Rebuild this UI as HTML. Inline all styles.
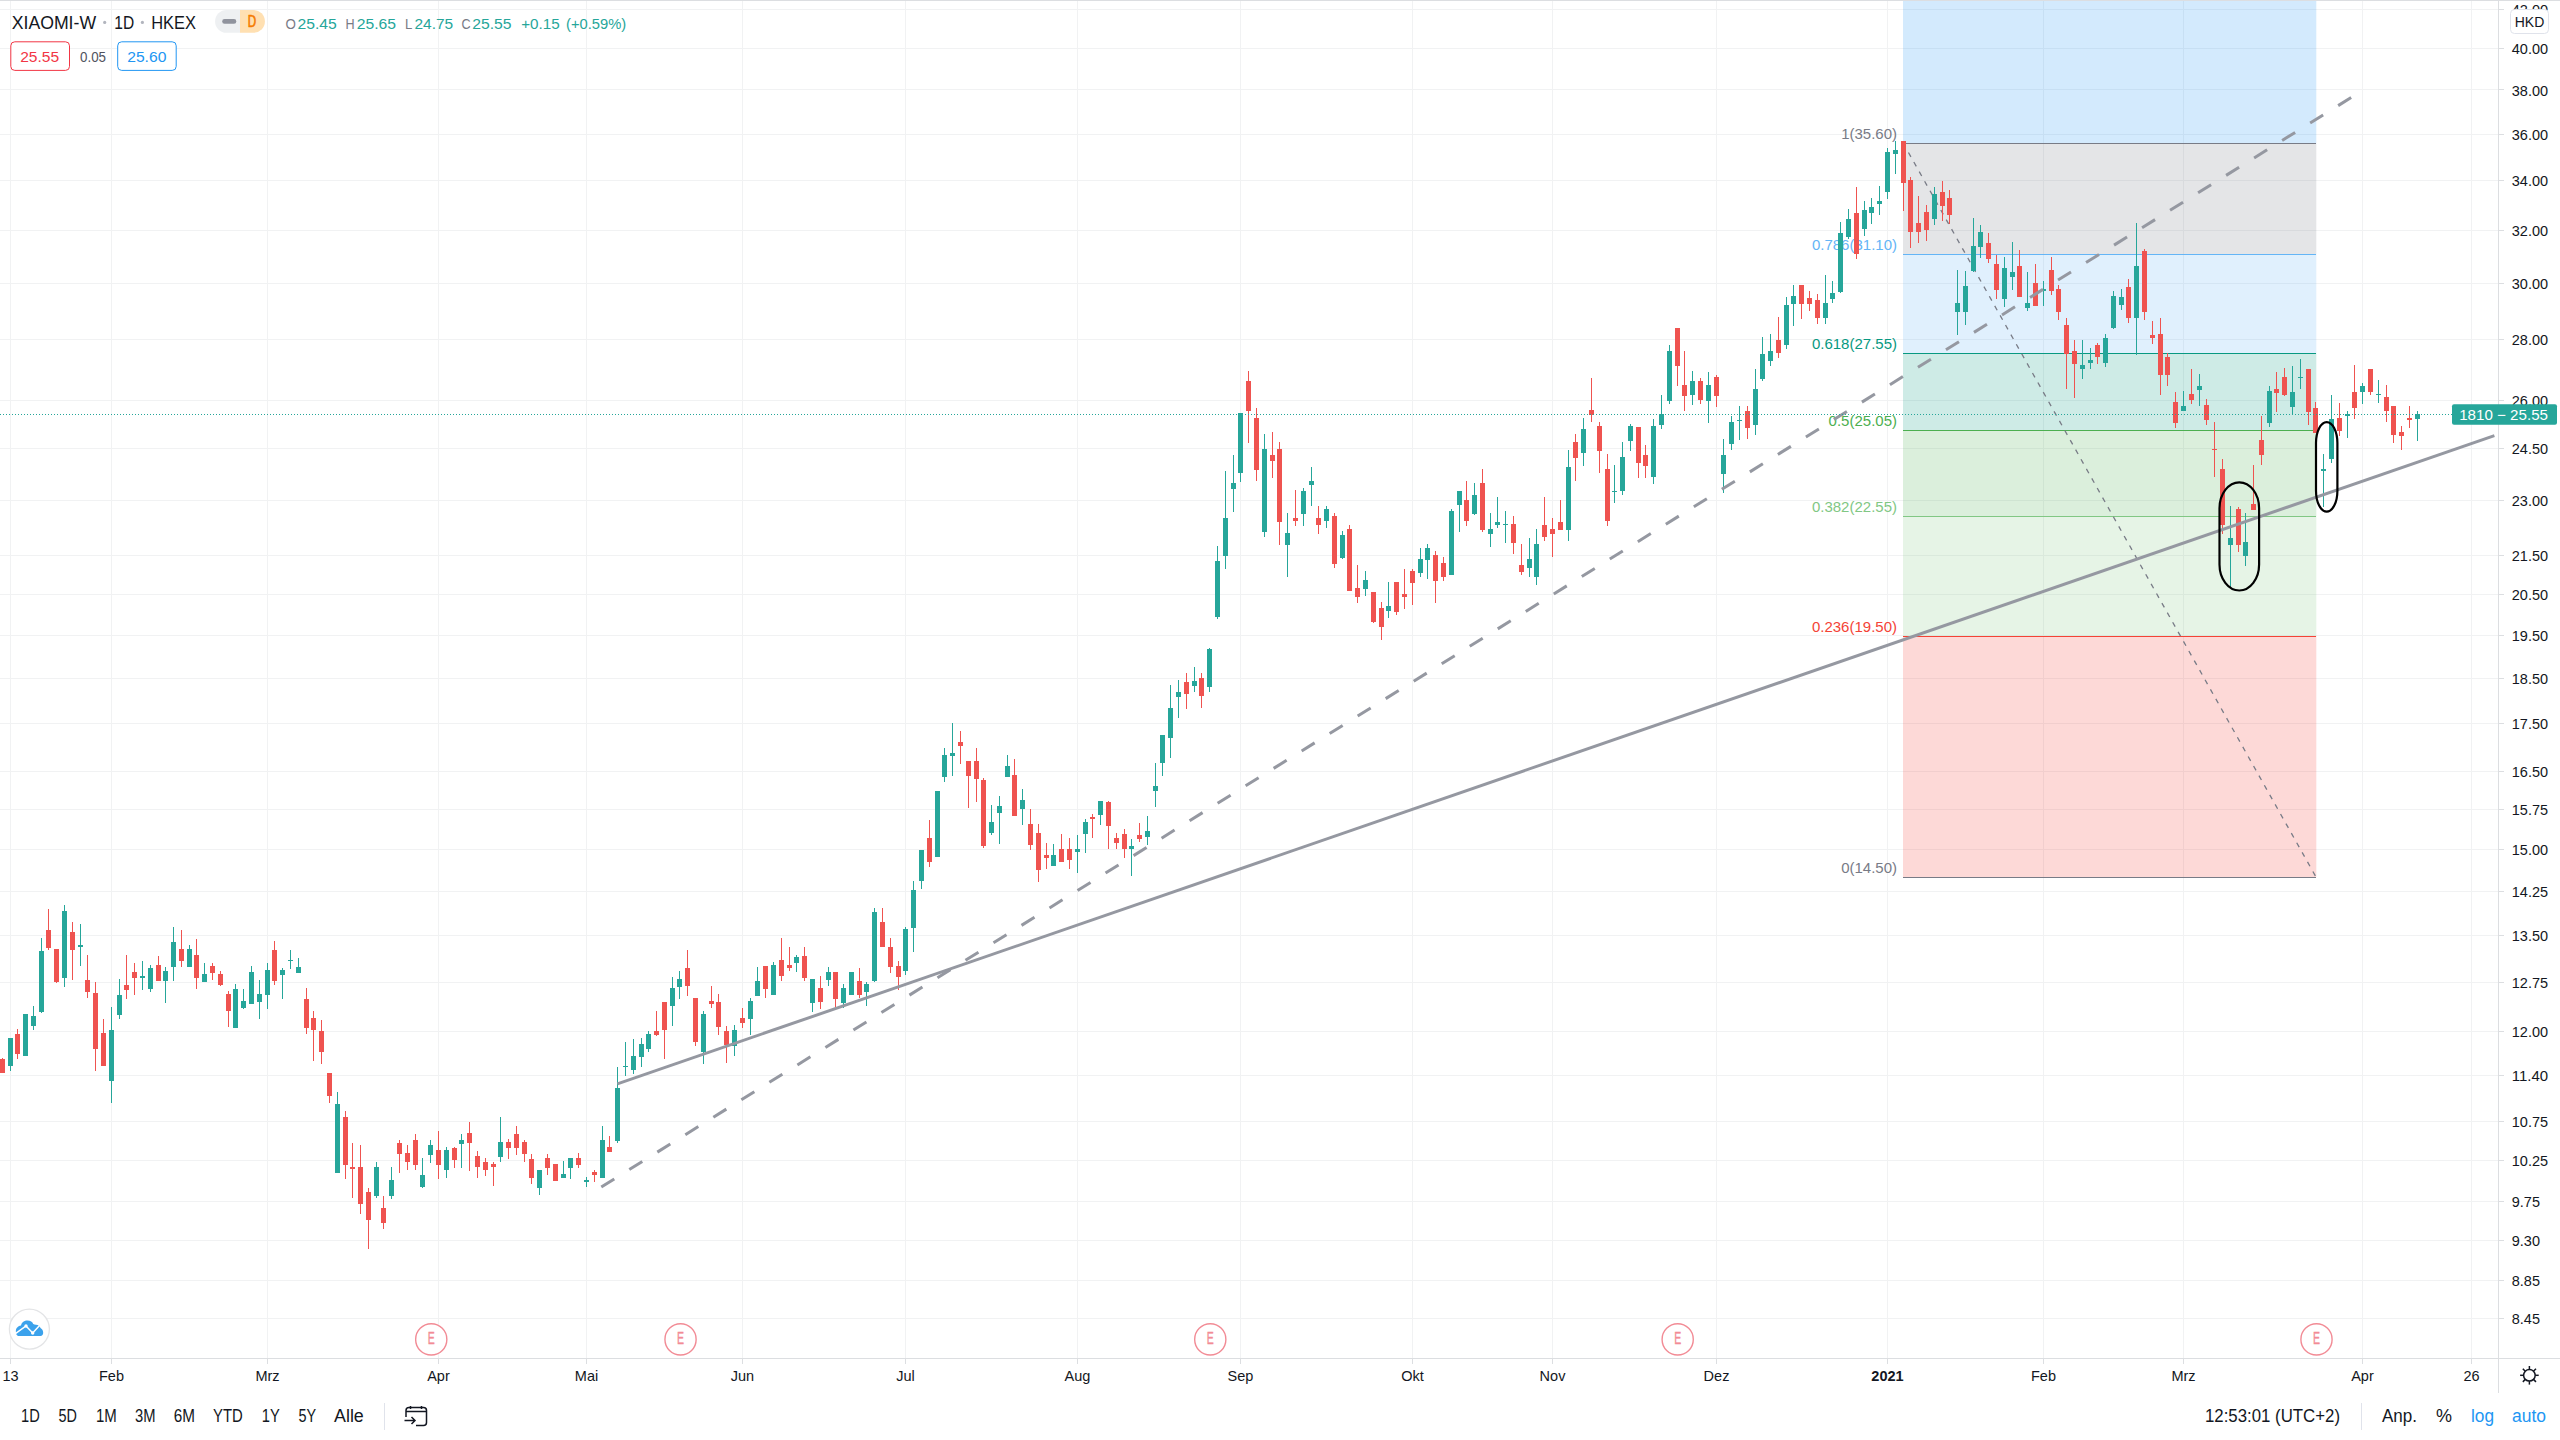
<!DOCTYPE html><html><head><meta charset="utf-8"><style>html,body{margin:0;padding:0;background:#fff;width:2560px;height:1440px;overflow:hidden}svg{display:block;font-family:"Liberation Sans",sans-serif}</style></head><body>
<svg width="2560" height="1440" viewBox="0 0 2560 1440">
<rect width="2560" height="1440" fill="#fff"/>
<path d="M10.5 0V1358M111.5 0V1358M267.5 0V1358M438.5 0V1358M586.5 0V1358M742.5 0V1358M905.5 0V1358M1077.5 0V1358M1240.5 0V1358M1412.5 0V1358M1552.5 0V1358M1716.5 0V1358M1887.5 0V1358M2043.5 0V1358M2183.5 0V1358M2362.5 0V1358M2471.5 0V1358M0 9.5H2498M0 48.5H2498M0 89.5H2498M0 134.5H2498M0 180.5H2498M0 230.5H2498M0 283.5H2498M0 339.5H2498M0 400.5H2498M0 448.5H2498M0 500.5H2498M0 555.5H2498M0 594.5H2498M0 635.5H2498M0 678.5H2498M0 723.5H2498M0 771.5H2498M0 809.5H2498M0 849.5H2498M0 891.5H2498M0 935.5H2498M0 982.5H2498M0 1031.5H2498M0 1075.5H2498M0 1121.5H2498M0 1160.5H2498M0 1201.5H2498M0 1240.5H2498M0 1280.5H2498M0 1318.5H2498" stroke="#f1f2f3" stroke-width="1" fill="none" shape-rendering="crispEdges"/>
<rect x="1903" y="636.0" width="413.3000000000002" height="241.2" fill="#f44336" fill-opacity="0.2"/>
<rect x="1903" y="516.0" width="413.3000000000002" height="120.0" fill="#81c784" fill-opacity="0.2"/>
<rect x="1903" y="430.5" width="413.3000000000002" height="85.5" fill="#4caf50" fill-opacity="0.2"/>
<rect x="1903" y="353.0" width="413.3000000000002" height="77.4" fill="#089981" fill-opacity="0.2"/>
<rect x="1903" y="254.1" width="413.3000000000002" height="98.9" fill="#64b5f6" fill-opacity="0.2"/>
<rect x="1903" y="143.3" width="413.3000000000002" height="110.8" fill="#787b86" fill-opacity="0.2"/>
<rect x="1903" y="0" width="413.3000000000002" height="143.3" fill="#2196f3" fill-opacity="0.2"/>
<path d="M1903 877.5H2316.3" stroke="#787b86" stroke-width="1" shape-rendering="crispEdges"/>
<path d="M1903 636.5H2316.3" stroke="#f44336" stroke-width="1" shape-rendering="crispEdges"/>
<path d="M1903 516.5H2316.3" stroke="#81c784" stroke-width="1" shape-rendering="crispEdges"/>
<path d="M1903 430.5H2316.3" stroke="#4caf50" stroke-width="1" shape-rendering="crispEdges"/>
<path d="M1903 353.5H2316.3" stroke="#089981" stroke-width="1" shape-rendering="crispEdges"/>
<path d="M1903 254.5H2316.3" stroke="#64b5f6" stroke-width="1" shape-rendering="crispEdges"/>
<path d="M1903 143.5H2316.3" stroke="#787b86" stroke-width="1" shape-rendering="crispEdges"/>
<text x="1897" y="872.9" font-size="15" fill="#787b86" text-anchor="end">0(14.50)</text>
<text x="1897" y="631.7" font-size="15" fill="#f44336" text-anchor="end">0.236(19.50)</text>
<text x="1897" y="511.7" font-size="15" fill="#81c784" text-anchor="end">0.382(22.55)</text>
<text x="1897" y="426.2" font-size="15" fill="#4caf50" text-anchor="end">0.5(25.05)</text>
<text x="1897" y="348.7" font-size="15" fill="#089981" text-anchor="end">0.618(27.55)</text>
<text x="1897" y="249.8" font-size="15" fill="#64b5f6" text-anchor="end">0.786(31.10)</text>
<text x="1897" y="139.0" font-size="15" fill="#787b86" text-anchor="end">1(35.60)</text>
<path d="M1903.3 143.3L2316.1 877.2" stroke="#787b86" stroke-width="1.3" stroke-dasharray="5 6" stroke-dashoffset="0.5" fill="none"/>
<path d="M10.5 1038V1071M25.5 1014V1056M33.5 1006V1030M41.5 938V1013M64.5 905V987M80.5 924V966M111.5 1007V1103M119.5 979V1019M142.5 961V990M150.5 965V992M165.5 967V1003M173.5 927V981M189.5 945V967M204.5 963V982M235.5 984V1028M243.5 989V1009M251.5 966V1004M259.5 980V1019M267.5 963V1009M282.5 968V999M290.5 950V969M298.5 958V973M337.5 1092V1173M376.5 1162V1198M391.5 1167V1199M422.5 1158V1188M430.5 1140V1163M446.5 1147V1178M461.5 1134V1168M500.5 1117V1162M539.5 1170V1195M563.5 1161V1178M570.5 1158V1179M586.5 1177V1187M602.5 1126V1178M617.5 1067V1143M625.5 1042V1076M633.5 1039V1074M641.5 1038V1067M648.5 1031V1052M672.5 977V1026M679.5 971V999M703.5 1011V1064M734.5 1025V1056M750.5 998V1035M757.5 967V996M773.5 962V995M796.5 955V972M812.5 979V1012M828.5 967V986M843.5 984V1008M851.5 972V995M866.5 982V1006M874.5 908V982M905.5 927V975M913.5 881V952M921.5 850V889M937.5 791V857M944.5 748V782M952.5 723V776M991.5 805V835M999.5 796V844M1007.5 755V777M1022.5 789V825M1053.5 844V866M1077.5 835V873M1085.5 819V853M1100.5 801V825M1131.5 839V876M1147.5 816V845M1155.5 763V807M1162.5 735V776M1170.5 685V758M1178.5 680V718M1194.5 667V692M1209.5 648V692M1217.5 546V619M1225.5 471V569M1233.5 455V512M1240.5 413V482M1264.5 434V537M1287.5 513V577M1303.5 488V526M1311.5 467V506M1326.5 506V528M1342.5 531V559M1365.5 571V596M1388.5 582V618M1420.5 548V577M1427.5 544V579M1451.5 509V575M1459.5 491V532M1474.5 483V515M1490.5 513V547M1497.5 497V528M1505.5 511V543M1529.5 538V577M1536.5 529V585M1568.5 450V541M1583.5 418V466M1614.5 465V503M1622.5 442V495M1630.5 424V451M1653.5 419V484M1661.5 395V429M1669.5 345V404M1692.5 371V405M1708.5 372V423M1723.5 439V493M1731.5 416V450M1739.5 406V440M1755.5 369V435M1762.5 337V381M1770.5 334V366M1786.5 297V349M1793.5 285V326M1825.5 275V324M1832.5 281V303M1840.5 222V293M1848.5 209V239M1864.5 201V236M1871.5 198V224M1879.5 186V215M1887.5 148V199M1895.5 141V174M1934.5 187V225M1957.5 270V335M1965.5 271V325M1973.5 218V272M1980.5 225V258M2004.5 257V307M2012.5 242V290M2027.5 272V311M2043.5 281V306M2082.5 340V379M2090.5 348V369M2105.5 334V367M2113.5 291V329M2121.5 289V310M2136.5 223V355M2183.5 391V411M2199.5 374V406M2230.5 506V587M2245.5 513V566M2269.5 386V427M2292.5 366V415M2300.5 359V389M2323.5 454V507M2331.5 395V463M2347.5 411V438M2362.5 383V404M2378.5 380V403M2417.5 411V441" stroke="#26a69a" stroke-width="1" fill="none" shape-rendering="crispEdges"/>
<path d="M2.5 1058V1073M17.5 1029V1059M48.5 909V950M56.5 949V983M72.5 922V980M87.5 955V998M95.5 982V1071M103.5 1019V1066M126.5 955V999M134.5 963V995M158.5 956V981M181.5 930V967M196.5 939V989M212.5 963V980M220.5 971V986M228.5 991V1027M274.5 941V985M306.5 988V1034M313.5 1011V1061M321.5 1020V1064M329.5 1073V1103M345.5 1111V1179M352.5 1143V1198M360.5 1145V1214M368.5 1188V1249M383.5 1196V1229M399.5 1140V1173M407.5 1145V1170M415.5 1134V1170M438.5 1131V1179M454.5 1147V1168M469.5 1122V1171M477.5 1151V1178M485.5 1158V1176M493.5 1162V1186M508.5 1139V1159M516.5 1126V1155M524.5 1140V1162M531.5 1154V1184M547.5 1154V1175M555.5 1164V1181M578.5 1153V1168M594.5 1170V1182M609.5 1136V1152M656.5 1011V1036M664.5 1002V1059M687.5 950V996M695.5 998V1046M711.5 986V1008M718.5 994V1035M726.5 1026V1063M742.5 1008V1028M765.5 966V998M781.5 938V981M789.5 947V971M804.5 947V981M820.5 976V1009M835.5 972V1007M859.5 968V998M882.5 908V947M890.5 938V973M898.5 961V990M929.5 820V867M960.5 731V764M968.5 761V808M976.5 748V802M983.5 778V848M1014.5 759V816M1030.5 809V850M1038.5 824V882M1046.5 843V869M1061.5 834V862M1069.5 838V869M1092.5 814V838M1108.5 801V849M1116.5 833V849M1124.5 829V858M1139.5 823V842M1186.5 673V709M1201.5 673V708M1248.5 371V443M1256.5 408V481M1272.5 432V478M1279.5 442V545M1295.5 490V526M1318.5 506V534M1334.5 513V568M1349.5 525V591M1357.5 565V603M1373.5 592V623M1381.5 602V640M1396.5 582V615M1404.5 569V609M1412.5 569V605M1435.5 551V603M1443.5 557V581M1466.5 481V526M1482.5 469V532M1513.5 516V554M1521.5 544V575M1544.5 497V541M1552.5 518V557M1560.5 500V530M1575.5 434V481M1591.5 378V422M1599.5 422V473M1607.5 454V526M1638.5 427V478M1645.5 445V478M1677.5 328V386M1684.5 351V411M1700.5 378V404M1716.5 375V407M1747.5 406V439M1778.5 317V358M1801.5 285V319M1809.5 291V311M1817.5 294V324M1856.5 187V259M1903.5 141V211M1910.5 177V248M1918.5 196V243M1926.5 205V241M1942.5 181V221M1949.5 190V224M1988.5 233V263M1996.5 255V299M2019.5 250V297M2035.5 264V306M2051.5 257V295M2058.5 285V320M2066.5 318V389M2074.5 340V398M2097.5 343V364M2128.5 279V323M2144.5 249V320M2152.5 321V344M2160.5 318V395M2167.5 353V386M2175.5 392V428M2191.5 369V404M2206.5 399V425M2214.5 422V477M2222.5 459V534M2238.5 507V552M2253.5 465V510M2261.5 416V465M2276.5 372V412M2284.5 368V396M2308.5 369V425M2315.5 402V433M2339.5 403V436M2354.5 365V419M2370.5 369V395M2386.5 385V422M2393.5 406V443M2401.5 426V450M2409.5 406V428" stroke="#ef5350" stroke-width="1" fill="none" shape-rendering="crispEdges"/>
<path d="M8 1038h5v28h-5zM23 1014h5v42h-5zM31 1016h5v10h-5zM39 951h5v61h-5zM62 911h5v67h-5zM78 945h5v2h-5zM109 1030h5v51h-5zM117 995h5v20h-5zM140 976h5v2h-5zM148 968h5v21h-5zM163 971h5v10h-5zM171 942h5v25h-5zM187 949h5v18h-5zM202 974h5v8h-5zM233 989h5v39h-5zM241 1001h5v7h-5zM249 972h5v32h-5zM257 994h5v8h-5zM265 970h5v25h-5zM280 970h5v5h-5zM288 960h5v1h-5zM296 967h5v6h-5zM335 1104h5v69h-5zM374 1167h5v29h-5zM389 1180h5v16h-5zM420 1175h5v12h-5zM428 1145h5v10h-5zM444 1150h5v20h-5zM459 1140h5v4h-5zM498 1142h5v15h-5zM537 1170h5v18h-5zM561 1174h5v4h-5zM568 1158h5v10h-5zM584 1180h5v2h-5zM600 1140h5v38h-5zM615 1088h5v53h-5zM623 1066h5v1h-5zM631 1056h5v14h-5zM639 1044h5v13h-5zM646 1034h5v15h-5zM670 988h5v18h-5zM677 979h5v8h-5zM701 1014h5v38h-5zM732 1030h5v16h-5zM748 1001h5v18h-5zM755 981h5v15h-5zM771 965h5v30h-5zM794 957h5v6h-5zM810 979h5v24h-5zM826 972h5v8h-5zM841 988h5v15h-5zM849 972h5v23h-5zM864 984h5v8h-5zM872 912h5v69h-5zM903 929h5v42h-5zM911 890h5v38h-5zM919 850h5v31h-5zM935 791h5v66h-5zM942 755h5v22h-5zM950 753h5v3h-5zM989 822h5v11h-5zM997 806h5v7h-5zM1005 766h5v11h-5zM1020 800h5v9h-5zM1051 855h5v11h-5zM1075 849h5v3h-5zM1083 822h5v12h-5zM1098 801h5v14h-5zM1129 846h5v3h-5zM1145 831h5v6h-5zM1153 786h5v5h-5zM1160 735h5v28h-5zM1168 708h5v30h-5zM1176 692h5v5h-5zM1192 681h5v5h-5zM1207 649h5v38h-5zM1215 561h5v56h-5zM1223 518h5v38h-5zM1231 483h5v6h-5zM1238 413h5v60h-5zM1262 449h5v83h-5zM1285 533h5v12h-5zM1301 491h5v23h-5zM1309 481h5v4h-5zM1324 509h5v12h-5zM1340 535h5v23h-5zM1363 580h5v9h-5zM1386 606h5v5h-5zM1418 559h5v14h-5zM1425 548h5v12h-5zM1449 511h5v64h-5zM1457 491h5v14h-5zM1472 495h5v19h-5zM1488 529h5v5h-5zM1495 522h5v3h-5zM1503 524h5v1h-5zM1527 559h5v9h-5zM1534 544h5v33h-5zM1566 467h5v63h-5zM1581 429h5v24h-5zM1612 491h5v1h-5zM1620 457h5v34h-5zM1628 426h5v15h-5zM1651 426h5v51h-5zM1659 414h5v11h-5zM1667 351h5v50h-5zM1690 381h5v14h-5zM1706 385h5v16h-5zM1721 455h5v19h-5zM1729 422h5v22h-5zM1737 420h5v1h-5zM1753 389h5v36h-5zM1760 354h5v25h-5zM1768 351h5v10h-5zM1784 305h5v40h-5zM1791 296h5v8h-5zM1823 303h5v15h-5zM1830 293h5v6h-5zM1838 233h5v59h-5zM1846 219h5v18h-5zM1862 210h5v19h-5zM1869 207h5v6h-5zM1877 201h5v3h-5zM1885 152h5v40h-5zM1893 150h5v4h-5zM1932 194h5v25h-5zM1955 303h5v9h-5zM1963 286h5v26h-5zM1971 246h5v25h-5zM1978 232h5v15h-5zM2002 268h5v31h-5zM2010 272h5v5h-5zM2025 303h5v5h-5zM2041 289h5v2h-5zM2080 365h5v4h-5zM2088 360h5v3h-5zM2103 338h5v25h-5zM2111 296h5v32h-5zM2119 297h5v8h-5zM2134 266h5v52h-5zM2181 406h5v5h-5zM2197 386h5v4h-5zM2228 538h5v7h-5zM2243 542h5v14h-5zM2267 391h5v32h-5zM2290 392h5v15h-5zM2298 377h5v1h-5zM2321 469h5v2h-5zM2329 419h5v40h-5zM2345 414h5v2h-5zM2360 386h5v6h-5zM2376 394h5v1h-5zM2415 414h5v5h-5z" fill="#26a69a" shape-rendering="crispEdges"/>
<path d="M0 1059h5v14h-5zM15 1034h5v20h-5zM46 930h5v18h-5zM54 949h5v33h-5zM70 932h5v18h-5zM85 980h5v12h-5zM93 993h5v56h-5zM101 1033h5v33h-5zM124 985h5v5h-5zM132 972h5v6h-5zM156 965h5v16h-5zM179 949h5v12h-5zM194 955h5v23h-5zM210 966h5v7h-5zM218 974h5v11h-5zM226 994h5v17h-5zM272 950h5v31h-5zM304 999h5v29h-5zM311 1018h5v12h-5zM319 1031h5v21h-5zM327 1073h5v23h-5zM343 1117h5v48h-5zM350 1167h5v2h-5zM358 1167h5v37h-5zM366 1192h5v28h-5zM381 1208h5v15h-5zM397 1143h5v11h-5zM405 1153h5v9h-5zM413 1140h5v25h-5zM436 1150h5v15h-5zM452 1148h5v12h-5zM467 1133h5v10h-5zM475 1156h5v11h-5zM483 1162h5v8h-5zM491 1164h5v3h-5zM506 1142h5v6h-5zM514 1134h5v14h-5zM522 1142h5v12h-5zM529 1159h5v19h-5zM545 1158h5v10h-5zM553 1164h5v17h-5zM576 1158h5v7h-5zM592 1172h5v3h-5zM607 1147h5v5h-5zM654 1031h5v4h-5zM662 1002h5v28h-5zM685 968h5v18h-5zM693 998h5v44h-5zM709 1001h5v3h-5zM716 1002h5v25h-5zM724 1031h5v14h-5zM740 1018h5v5h-5zM763 966h5v23h-5zM779 960h5v16h-5zM787 965h5v3h-5zM802 956h5v22h-5zM818 988h5v14h-5zM833 972h5v27h-5zM857 981h5v14h-5zM880 922h5v25h-5zM888 947h5v20h-5zM896 966h5v11h-5zM927 838h5v24h-5zM958 742h5v4h-5zM966 761h5v15h-5zM974 761h5v18h-5zM981 780h5v66h-5zM1012 775h5v41h-5zM1028 824h5v21h-5zM1036 833h5v37h-5zM1044 855h5v3h-5zM1059 849h5v13h-5zM1067 849h5v11h-5zM1090 817h5v2h-5zM1106 802h5v24h-5zM1114 838h5v5h-5zM1122 834h5v15h-5zM1137 835h5v4h-5zM1184 682h5v12h-5zM1199 678h5v18h-5zM1246 381h5v30h-5zM1254 418h5v52h-5zM1270 455h5v6h-5zM1277 449h5v73h-5zM1293 518h5v3h-5zM1316 518h5v7h-5zM1332 516h5v48h-5zM1347 529h5v62h-5zM1355 588h5v9h-5zM1371 592h5v30h-5zM1379 608h5v19h-5zM1394 582h5v30h-5zM1402 594h5v3h-5zM1410 571h5v12h-5zM1433 555h5v26h-5zM1441 563h5v14h-5zM1464 500h5v21h-5zM1480 483h5v47h-5zM1511 524h5v19h-5zM1519 565h5v7h-5zM1542 525h5v12h-5zM1550 529h5v5h-5zM1558 522h5v8h-5zM1573 442h5v16h-5zM1589 410h5v5h-5zM1597 426h5v25h-5zM1605 469h5v52h-5zM1636 427h5v36h-5zM1643 455h5v11h-5zM1675 328h5v38h-5zM1682 385h5v11h-5zM1698 381h5v19h-5zM1714 377h5v19h-5zM1745 411h5v17h-5zM1776 340h5v13h-5zM1799 285h5v19h-5zM1807 298h5v6h-5zM1815 300h5v18h-5zM1854 213h5v41h-5zM1901 141h5v42h-5zM1908 180h5v52h-5zM1916 223h5v9h-5zM1924 212h5v18h-5zM1940 192h5v14h-5zM1947 198h5v17h-5zM1986 243h5v16h-5zM1994 264h5v26h-5zM2017 266h5v31h-5zM2033 283h5v23h-5zM2049 270h5v21h-5zM2056 289h5v23h-5zM2064 325h5v29h-5zM2072 351h5v13h-5zM2095 345h5v12h-5zM2126 287h5v31h-5zM2142 251h5v61h-5zM2150 335h5v3h-5zM2158 334h5v41h-5zM2165 357h5v18h-5zM2173 402h5v21h-5zM2189 394h5v6h-5zM2204 405h5v15h-5zM2212 449h5v1h-5zM2220 469h5v56h-5zM2236 509h5v36h-5zM2251 504h5v6h-5zM2259 440h5v15h-5zM2274 389h5v4h-5zM2282 377h5v18h-5zM2306 369h5v43h-5zM2313 408h5v25h-5zM2337 418h5v13h-5zM2352 392h5v16h-5zM2368 369h5v23h-5zM2384 397h5v14h-5zM2391 406h5v29h-5zM2399 432h5v4h-5zM2407 418h5v2h-5z" fill="#ef5350" shape-rendering="crispEdges"/>
<path d="M617.4 1083.9L2494.4 435.6" stroke="#9598a1" stroke-width="3" fill="none"/>
<path d="M601.3 1187L2352 97" stroke="#9598a1" stroke-width="3" stroke-dasharray="15.3 17.7" fill="none"/>
<path d="M2219.5 508.3A19.80 26 0 0 1 2259.1 508.3V564.5A19.80 26 0 0 1 2219.5 564.5Z" stroke="#000" stroke-width="2.2" fill="none"/>
<path d="M2316 443.1A10.70 21 0 0 1 2337.4 443.1V490.7A10.70 21 0 0 1 2316 490.7Z" stroke="#000" stroke-width="2.2" fill="none"/>
<path d="M0 414.5H2452" stroke="#26a69a" stroke-width="1" stroke-dasharray="1 2" shape-rendering="crispEdges"/>
<circle cx="431.25" cy="1339.4" r="15.6" fill="#fff" stroke="#f28b95" stroke-width="1.4"/>
<text x="427.75" y="1344.2" font-size="16.5" fill="#f28b95" stroke="#f28b95" stroke-width="0.35" textLength="7" lengthAdjust="spacingAndGlyphs">E</text>
<circle cx="680.54" cy="1339.4" r="15.6" fill="#fff" stroke="#f28b95" stroke-width="1.4"/>
<text x="677.04" y="1344.2" font-size="16.5" fill="#f28b95" stroke="#f28b95" stroke-width="0.35" textLength="7" lengthAdjust="spacingAndGlyphs">E</text>
<circle cx="1210.28" cy="1339.4" r="15.6" fill="#fff" stroke="#f28b95" stroke-width="1.4"/>
<text x="1206.78" y="1344.2" font-size="16.5" fill="#f28b95" stroke="#f28b95" stroke-width="0.35" textLength="7" lengthAdjust="spacingAndGlyphs">E</text>
<circle cx="1677.69" cy="1339.4" r="15.6" fill="#fff" stroke="#f28b95" stroke-width="1.4"/>
<text x="1674.19" y="1344.2" font-size="16.5" fill="#f28b95" stroke="#f28b95" stroke-width="0.35" textLength="7" lengthAdjust="spacingAndGlyphs">E</text>
<circle cx="2316.50" cy="1339.4" r="15.6" fill="#fff" stroke="#f28b95" stroke-width="1.4"/>
<text x="2313.00" y="1344.2" font-size="16.5" fill="#f28b95" stroke="#f28b95" stroke-width="0.35" textLength="7" lengthAdjust="spacingAndGlyphs">E</text>
<circle cx="29.4" cy="1329.1" r="20" fill="#fff" stroke="#e3e4e6" stroke-width="1.3"/>
<g transform="translate(29.4 1329.1)"><path d="M-13.5 3C-13.8 -0.5 -12 -2.8 -8.4 -3.5C-7.8 -7 -5 -8.6 -2 -8.6C1 -8.6 3.2 -7.2 3.8 -5C4.5 -4.6 5.5 -4.4 6.5 -4.4C9 -4.4 10.5 -3 11.1 -1.2C13 -0.3 13.8 1.8 13.8 3.6C13.8 5.6 12.8 6.8 11 6.8H-11.2C-12.5 6.8 -13.5 5.5 -13.5 3Z" fill="#3ba2ec"/><path d="M-14 4.6L-3.4 -3.1L3.3 3.9L10.6 -4" stroke="#fff" stroke-width="1.5" fill="none"/><circle cx="-3.4" cy="-3.1" r="1.7" fill="#fff"/><circle cx="3.3" cy="3.9" r="1.7" fill="#fff"/></g>
<path d="M2498.5 0V1392.5M0 1358.5H2560M0 0.5H2560" stroke="#dcdee1" stroke-width="1" shape-rendering="crispEdges"/>
<path d="M2498 9.5H2504M2498 48.5H2504M2498 89.5H2504M2498 134.5H2504M2498 180.5H2504M2498 230.5H2504M2498 283.5H2504M2498 339.5H2504M2498 400.5H2504M2498 448.5H2504M2498 500.5H2504M2498 555.5H2504M2498 594.5H2504M2498 635.5H2504M2498 678.5H2504M2498 723.5H2504M2498 771.5H2504M2498 809.5H2504M2498 849.5H2504M2498 891.5H2504M2498 935.5H2504M2498 982.5H2504M2498 1031.5H2504M2498 1075.5H2504M2498 1121.5H2504M2498 1160.5H2504M2498 1201.5H2504M2498 1240.5H2504M2498 1280.5H2504M2498 1318.5H2504M10.5 1358V1364M111.5 1358V1364M267.5 1358V1364M438.5 1358V1364M586.5 1358V1364M742.5 1358V1364M905.5 1358V1364M1077.5 1358V1364M1240.5 1358V1364M1412.5 1358V1364M1552.5 1358V1364M1716.5 1358V1364M1887.5 1358V1364M2043.5 1358V1364M2183.5 1358V1364M2362.5 1358V1364M2471.5 1358V1364" stroke="#dcdee1" stroke-width="1" shape-rendering="crispEdges"/>
<text x="2511.8" y="14.8" font-size="15.4" fill="#131722" textLength="36.3" lengthAdjust="spacingAndGlyphs">42.00</text>
<text x="2511.8" y="53.6" font-size="15.4" fill="#131722" textLength="36.3" lengthAdjust="spacingAndGlyphs">40.00</text>
<text x="2511.8" y="95.6" font-size="15.4" fill="#131722" textLength="36.3" lengthAdjust="spacingAndGlyphs">38.00</text>
<text x="2511.8" y="139.7" font-size="15.4" fill="#131722" textLength="36.3" lengthAdjust="spacingAndGlyphs">36.00</text>
<text x="2511.8" y="186.4" font-size="15.4" fill="#131722" textLength="36.3" lengthAdjust="spacingAndGlyphs">34.00</text>
<text x="2511.8" y="236.0" font-size="15.4" fill="#131722" textLength="36.3" lengthAdjust="spacingAndGlyphs">32.00</text>
<text x="2511.8" y="288.7" font-size="15.4" fill="#131722" textLength="36.3" lengthAdjust="spacingAndGlyphs">30.00</text>
<text x="2511.8" y="345.1" font-size="15.4" fill="#131722" textLength="36.3" lengthAdjust="spacingAndGlyphs">28.00</text>
<text x="2511.8" y="405.6" font-size="15.4" fill="#131722" textLength="36.3" lengthAdjust="spacingAndGlyphs">26.00</text>
<text x="2511.8" y="454.2" font-size="15.4" fill="#131722" textLength="36.3" lengthAdjust="spacingAndGlyphs">24.50</text>
<text x="2511.8" y="505.8" font-size="15.4" fill="#131722" textLength="36.3" lengthAdjust="spacingAndGlyphs">23.00</text>
<text x="2511.8" y="560.9" font-size="15.4" fill="#131722" textLength="36.3" lengthAdjust="spacingAndGlyphs">21.50</text>
<text x="2511.8" y="599.8" font-size="15.4" fill="#131722" textLength="36.3" lengthAdjust="spacingAndGlyphs">20.50</text>
<text x="2511.8" y="640.7" font-size="15.4" fill="#131722" textLength="36.3" lengthAdjust="spacingAndGlyphs">19.50</text>
<text x="2511.8" y="683.7" font-size="15.4" fill="#131722" textLength="36.3" lengthAdjust="spacingAndGlyphs">18.50</text>
<text x="2511.8" y="729.1" font-size="15.4" fill="#131722" textLength="36.3" lengthAdjust="spacingAndGlyphs">17.50</text>
<text x="2511.8" y="777.2" font-size="15.4" fill="#131722" textLength="36.3" lengthAdjust="spacingAndGlyphs">16.50</text>
<text x="2511.8" y="815.2" font-size="15.4" fill="#131722" textLength="36.3" lengthAdjust="spacingAndGlyphs">15.75</text>
<text x="2511.8" y="855.1" font-size="15.4" fill="#131722" textLength="36.3" lengthAdjust="spacingAndGlyphs">15.00</text>
<text x="2511.8" y="897.0" font-size="15.4" fill="#131722" textLength="36.3" lengthAdjust="spacingAndGlyphs">14.25</text>
<text x="2511.8" y="941.2" font-size="15.4" fill="#131722" textLength="36.3" lengthAdjust="spacingAndGlyphs">13.50</text>
<text x="2511.8" y="987.9" font-size="15.4" fill="#131722" textLength="36.3" lengthAdjust="spacingAndGlyphs">12.75</text>
<text x="2511.8" y="1037.4" font-size="15.4" fill="#131722" textLength="36.3" lengthAdjust="spacingAndGlyphs">12.00</text>
<text x="2511.8" y="1080.9" font-size="15.4" fill="#131722" textLength="36.3" lengthAdjust="spacingAndGlyphs">11.40</text>
<text x="2511.8" y="1127.3" font-size="15.4" fill="#131722" textLength="36.3" lengthAdjust="spacingAndGlyphs">10.75</text>
<text x="2511.8" y="1166.2" font-size="15.4" fill="#131722" textLength="36.3" lengthAdjust="spacingAndGlyphs">10.25</text>
<text x="2511.8" y="1207.1" font-size="15.4" fill="#131722" textLength="28.2" lengthAdjust="spacingAndGlyphs">9.75</text>
<text x="2511.8" y="1245.7" font-size="15.4" fill="#131722" textLength="28.2" lengthAdjust="spacingAndGlyphs">9.30</text>
<text x="2511.8" y="1286.2" font-size="15.4" fill="#131722" textLength="28.2" lengthAdjust="spacingAndGlyphs">8.85</text>
<text x="2511.8" y="1324.0" font-size="15.4" fill="#131722" textLength="28.2" lengthAdjust="spacingAndGlyphs">8.45</text>
<text x="10.5" y="1381" font-size="14.5" fill="#131722" text-anchor="middle">13</text>
<text x="111.5" y="1381" font-size="14.5" fill="#131722" text-anchor="middle">Feb</text>
<text x="267.5" y="1381" font-size="14.5" fill="#131722" text-anchor="middle">Mrz</text>
<text x="438.5" y="1381" font-size="14.5" fill="#131722" text-anchor="middle">Apr</text>
<text x="586.5" y="1381" font-size="14.5" fill="#131722" text-anchor="middle">Mai</text>
<text x="742.5" y="1381" font-size="14.5" fill="#131722" text-anchor="middle">Jun</text>
<text x="905.5" y="1381" font-size="14.5" fill="#131722" text-anchor="middle">Jul</text>
<text x="1077.5" y="1381" font-size="14.5" fill="#131722" text-anchor="middle">Aug</text>
<text x="1240.5" y="1381" font-size="14.5" fill="#131722" text-anchor="middle">Sep</text>
<text x="1412.5" y="1381" font-size="14.5" fill="#131722" text-anchor="middle">Okt</text>
<text x="1552.5" y="1381" font-size="14.5" fill="#131722" text-anchor="middle">Nov</text>
<text x="1716.5" y="1381" font-size="14.5" fill="#131722" text-anchor="middle">Dez</text>
<text x="1887.5" y="1381" font-size="14.5" fill="#131722" text-anchor="middle" font-weight="bold">2021</text>
<text x="2043.5" y="1381" font-size="14.5" fill="#131722" text-anchor="middle">Feb</text>
<text x="2183.5" y="1381" font-size="14.5" fill="#131722" text-anchor="middle">Mrz</text>
<text x="2362.5" y="1381" font-size="14.5" fill="#131722" text-anchor="middle">Apr</text>
<text x="2471.5" y="1381" font-size="14.5" fill="#131722" text-anchor="middle">26</text>
<rect x="2510.5" y="9.5" width="38" height="24" rx="4" fill="#fff" stroke="#e0e3eb"/>
<text x="2529.5" y="26.5" font-size="14" fill="#131722" text-anchor="middle">HKD</text>
<rect x="2452" y="404.2" width="105" height="20.5" rx="2" fill="#26a69a"/>
<text x="2459.2" y="419.7" font-size="14.5" fill="#fff" textLength="88.8" lengthAdjust="spacingAndGlyphs">1810 − 25.55</text>
<g transform="translate(2529.4 1375.3)" stroke="#131722" stroke-width="1.5" fill="none"><circle r="5.8"/><path d="M5.80 0.00L9.30 0.00"/><path d="M4.10 4.10L6.58 6.58"/><path d="M0.00 5.80L0.00 9.30"/><path d="M-4.10 4.10L-6.58 6.58"/><path d="M-5.80 0.00L-9.30 0.00"/><path d="M-4.10 -4.10L-6.58 -6.58"/><path d="M-0.00 -5.80L-0.00 -9.30"/><path d="M4.10 -4.10L6.58 -6.58"/></g>
<text x="11.7" y="28.7" font-size="18.5" fill="#131722" textLength="84.4" lengthAdjust="spacingAndGlyphs">XIAOMI-W</text>
<text x="114.3" y="28.7" font-size="18.5" fill="#131722" textLength="19.9" lengthAdjust="spacingAndGlyphs">1D</text>
<text x="151.2" y="28.7" font-size="18.5" fill="#131722" textLength="44.8" lengthAdjust="spacingAndGlyphs">HKEX</text>
<circle cx="104.7" cy="22.4" r="1.6" fill="#b2b5be"/><circle cx="142.4" cy="22.4" r="1.6" fill="#b2b5be"/>
<path d="M226.5 10H240V32.8H226.5A11.4 11.4 0 0 1 226.5 10Z" fill="#eef0f2"/>
<path d="M240 10H253.5A11.4 11.4 0 0 1 253.5 32.8H240Z" fill="#ffe0b2"/>
<path d="M224.5 21.4H234" stroke="#90939d" stroke-width="4.6" stroke-linecap="round"/>
<text x="247.8" y="27" font-size="16" fill="#f57c00" stroke="#f57c00" stroke-width="0.7" textLength="8.4" lengthAdjust="spacingAndGlyphs">D</text>
<text x="285.6" y="28.8" font-size="15.5" fill="#787b86" textLength="10.4" lengthAdjust="spacingAndGlyphs">O</text>
<text x="297.5" y="28.8" font-size="15.5" fill="#26a69a" textLength="39.3" lengthAdjust="spacingAndGlyphs">25.45</text>
<text x="345.4" y="28.8" font-size="15.5" fill="#787b86" textLength="9.1" lengthAdjust="spacingAndGlyphs">H</text>
<text x="356.7" y="28.8" font-size="15.5" fill="#26a69a" textLength="39.3" lengthAdjust="spacingAndGlyphs">25.65</text>
<text x="405" y="28.8" font-size="15.5" fill="#787b86" textLength="7.3" lengthAdjust="spacingAndGlyphs">L</text>
<text x="414.5" y="28.8" font-size="15.5" fill="#26a69a" textLength="38.7" lengthAdjust="spacingAndGlyphs">24.75</text>
<text x="461.5" y="28.8" font-size="15.5" fill="#787b86" textLength="9.1" lengthAdjust="spacingAndGlyphs">C</text>
<text x="472.3" y="28.8" font-size="15.5" fill="#26a69a" textLength="39.3" lengthAdjust="spacingAndGlyphs">25.55</text>
<text x="521.2" y="28.8" font-size="15.5" fill="#26a69a" textLength="38.5" lengthAdjust="spacingAndGlyphs">+0.15</text>
<text x="566" y="28.8" font-size="15.5" fill="#26a69a" textLength="60.2" lengthAdjust="spacingAndGlyphs">(+0.59%)</text>
<rect x="10.8" y="41.8" width="58.7" height="28.6" rx="4" fill="#fff" stroke="#f23645"/>
<text x="20.2" y="61.9" font-size="14.5" fill="#f23645" textLength="39" lengthAdjust="spacingAndGlyphs">25.55</text>
<text x="80" y="61.9" font-size="14" fill="#50535e" textLength="26" lengthAdjust="spacingAndGlyphs">0.05</text>
<rect x="117.7" y="41.8" width="58.5" height="28.6" rx="4" fill="#fff" stroke="#2196f3"/>
<text x="127.2" y="61.9" font-size="14.5" fill="#2196f3" textLength="39.2" lengthAdjust="spacingAndGlyphs">25.60</text>
<text x="21.1" y="1422" font-size="17.5" fill="#131722" textLength="18.7" lengthAdjust="spacingAndGlyphs">1D</text>
<text x="58.6" y="1422" font-size="17.5" fill="#131722" textLength="18.4" lengthAdjust="spacingAndGlyphs">5D</text>
<text x="96" y="1422" font-size="17.5" fill="#131722" textLength="20.8" lengthAdjust="spacingAndGlyphs">1M</text>
<text x="135" y="1422" font-size="17.5" fill="#131722" textLength="20.5" lengthAdjust="spacingAndGlyphs">3M</text>
<text x="173.8" y="1422" font-size="17.5" fill="#131722" textLength="21.2" lengthAdjust="spacingAndGlyphs">6M</text>
<text x="213" y="1422" font-size="17.5" fill="#131722" textLength="29.7" lengthAdjust="spacingAndGlyphs">YTD</text>
<text x="261.8" y="1422" font-size="17.5" fill="#131722" textLength="18.0" lengthAdjust="spacingAndGlyphs">1Y</text>
<text x="298.4" y="1422" font-size="17.5" fill="#131722" textLength="17.6" lengthAdjust="spacingAndGlyphs">5Y</text>
<text x="334" y="1422" font-size="17.5" fill="#131722" textLength="29.8" lengthAdjust="spacingAndGlyphs">Alle</text>
<path d="M384.5 1403V1430" stroke="#e0e3eb" stroke-width="1" shape-rendering="crispEdges"/>
<g stroke="#131722" stroke-width="1.5" fill="none"><path d="M406 1417V1410.5Q406 1407.5 409 1407.5H423.5Q426.5 1407.5 426.5 1410.5V1422.5Q426.5 1425.5 423.5 1425.5H416"/><path d="M406 1411.5H426.5"/><path d="M410.5 1406V1409M421.5 1406V1409"/><path d="M404.5 1420.5H415M411.5 1417L415 1420.5L411.5 1424"/></g>
<text x="2205" y="1422" font-size="17.5" fill="#131722" textLength="135.0" lengthAdjust="spacingAndGlyphs">12:53:01 (UTC+2)</text>
<path d="M2361.5 1403V1430" stroke="#e0e3eb" stroke-width="1" shape-rendering="crispEdges"/>
<text x="2382" y="1422" font-size="17.5" fill="#131722" textLength="35.0" lengthAdjust="spacingAndGlyphs">Anp.</text>
<text x="2436" y="1422" font-size="17.5" fill="#131722" textLength="16.0" lengthAdjust="spacingAndGlyphs">%</text>
<text x="2471" y="1422" font-size="17.5" fill="#2196f3" textLength="23.0" lengthAdjust="spacingAndGlyphs">log</text>
<text x="2512" y="1422" font-size="17.5" fill="#2196f3" textLength="34.0" lengthAdjust="spacingAndGlyphs">auto</text>
</svg></body></html>
